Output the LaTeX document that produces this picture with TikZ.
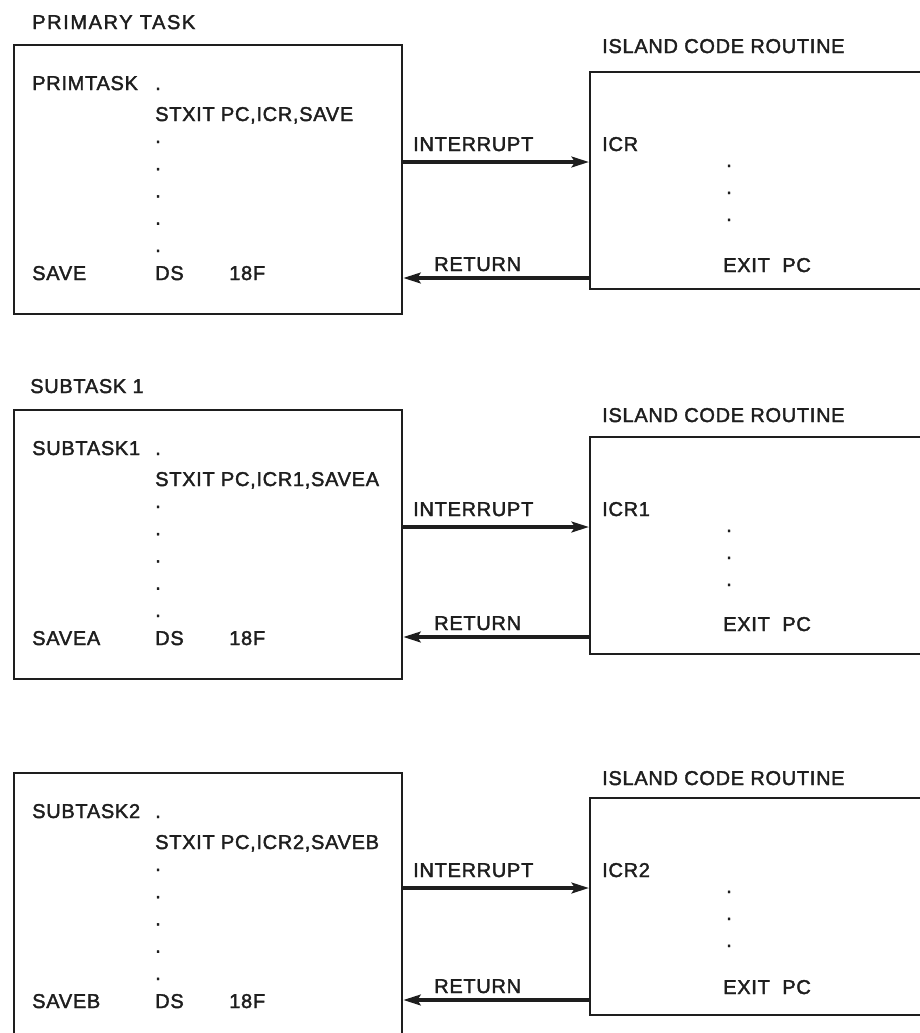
\documentclass[tikz,border=0pt]{standalone}
\usepackage{fontspec}
\setmainfont{Liberation Sans}[LetterSpace=3.5,FakeBold=2]
\usetikzlibrary{positioning,arrows.meta}
\definecolor{inkc}{HTML}{1E1E1E}

\begin{document}
\begin{tikzpicture}[x=0.75pt, y=-0.75pt, font=\fontsize{15}{18}\selectfont, text=inkc,
    txt/.style={anchor=base west, inner sep=0pt},
    taskbox/.style={draw=inkc, line width=1.7pt, anchor=north west, inner sep=0pt,
      minimum width=291pt, minimum height=201.75pt},
    islebox/.style={draw=inkc, line width=1.7pt, anchor=north west, inner sep=0pt,
      minimum width=285pt, minimum height=162.75pt},
    flow/.style={draw=inkc, line width=2.6pt, -{Stealth[length=13pt,width=8pt,inset=2.5pt]}}]
  \useasboundingbox (0,0) rectangle (920,1033);
  \clip (0,0) rectangle (920,1033);
  \node[txt] (hd1) at (32,29) {\addfontfeature{LetterSpace=8}PRIMARY TASK};
  \node[txt] (hd2) at (30,393) {SUBTASK 1};
  \foreach \n/\dl/\dr/\dret/\task/\save/\icr/\ih in
      {1/0/0/0/PRIMTASK/SAVE/ICR/53, 2/365/365/359/SUBTASK1/SAVEA/ICR1/57,
       3/728/726/722/SUBTASK2/SAVEB/ICR2/59}{
    % task side
    \node[taskbox] (task\n) at (13,44+\dl) {};
    \node[txt] (name\n) at (32,90+\dl) {\task};
    \node[txt] (ld\n) at (155,90+\dl) {.};
    \node[txt] (call\n) at (155,121+\dl) {STXIT PC,\icr,\save};
    \foreach \k in {0,...,4}
      \node[txt] (ld\n\k) at (155,143+\dl+27.25*\k) {.};
    \node[txt] (save\n) at (32,280+\dl) {\save};
    \node[txt] (ds\n) at (155,280+\dl) {DS};
    \node[txt] (len\n) at (229,280+\dl) {18F};
    % island code routine
    \node[txt] (ih\n) at (602,\ih+\dr) {ISLAND CODE ROUTINE};
    \node[islebox] (isle\n) at (589,71+\dr) {};
    \node[txt] (entry\n) at (602,151+\dr) {\icr};
    \foreach \k in {0,1,2}
      \node[txt] (rd\n\k) at (726,167+\dr+27*\k) {.};
    \node[txt] (exit\n) at (723,272+\dret) {EXIT~~PC};
    % connectors
    \coordinate (int\n) at (0,162+\dr);
    \coordinate (ret\n) at (0,278+\dret);
    \node[txt] (intl\n) at (413,151+\dr) {INTERRUPT};
    \node[txt] (retl\n) at (434,271+\dret) {RETURN};
    \draw[flow] (task\n.east |- int\n) -- (isle\n.west |- int\n);
    \draw[flow] (isle\n.west |- ret\n) -- (task\n.east |- ret\n);
  }
\end{tikzpicture}
\end{document}
